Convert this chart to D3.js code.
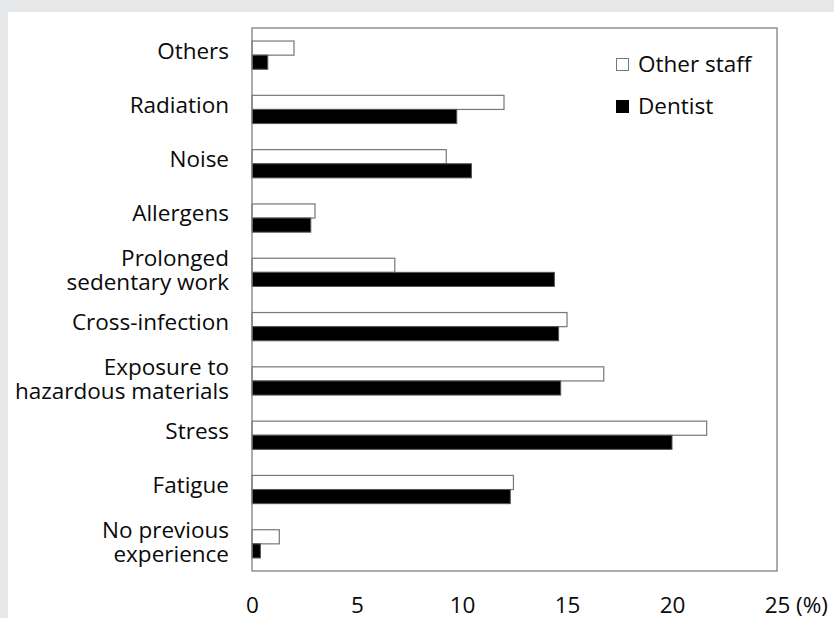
<!DOCTYPE html>
<html>
<head>
<meta charset="utf-8">
<script src="https://cdn.jsdelivr.net/npm/d3@7"></script>
<style>
  body { margin: 0; background: #e6e7e9; }
  text { font-family: "Open Sans", sans-serif; fill: #0a0a0a; }
</style>
</head>
<body>
<script>
let w = 834;
let h = 618;

let categories = [
  ["Others"],
  ["Radiation"],
  ["Noise"],
  ["Allergens"],
  ["Prolonged", "sedentary work"],
  ["Cross-infection"],
  ["Exposure to", "hazardous materials"],
  ["Stress"],
  ["Fatigue"],
  ["No previous", "experience"]
];
let otherStaff = [2.0, 12.0, 9.25, 3.0, 6.8, 15.0, 16.75, 21.65, 12.45, 1.3];
let dentist = [0.75, 9.75, 10.45, 2.8, 14.4, 14.6, 14.7, 20.0, 12.3, 0.4];
let seriesNames = ["Other staff", "Dentist"];
let xTicks = [0, 5, 10, 15, 20, 25];

let plotL = 252, plotR = 777, plotT = 28, plotB = 571;
let fs = 22.5;

let svg = d3.select("body")
  .append("svg")
  .attr("width", w)
  .attr("height", h)
  .style("display", "block");

// white panel
svg.append("rect")
  .attr("x", 8)
  .attr("y", 12)
  .attr("width", w - 8)
  .attr("height", h - 12)
  .attr("fill", "#fff");

let xScale = d3.scaleLinear()
  .domain([0, 25])
  .range([plotL, plotR]);

let yScale = d3.scaleBand()
  .domain(d3.range(categories.length))
  .range([plotT, plotB]);

let barH = yScale.bandwidth() * 0.26;

let rows = svg.append("g")
  .selectAll("g")
  .data(categories)
  .enter()
  .append("g")
  .attr("transform", (d, i) => "translate(0," + (yScale(i) + yScale.bandwidth() / 2) + ")");

rows.append("rect")
  .attr("x", xScale(0))
  .attr("y", -barH)
  .attr("width", (d, i) => xScale(otherStaff[i]) - xScale(0))
  .attr("height", barH)
  .attr("fill", "#fff")
  .attr("stroke", "#777")
  .attr("stroke-width", 1.2);

rows.append("rect")
  .attr("x", xScale(0))
  .attr("y", 0)
  .attr("width", (d, i) => xScale(dentist[i]) - xScale(0))
  .attr("height", barH)
  .attr("fill", "#000")
  .attr("stroke", "#555")
  .attr("stroke-width", 1);

// category labels (single lines sit a little above the bar pair)
rows.append("text")
  .attr("text-anchor", "end")
  .attr("font-size", fs)
  .attr("x", 229)
  .selectAll("tspan")
  .data(d => d)
  .enter()
  .append("tspan")
  .attr("x", 229)
  .attr("y", (t, j, arr) => arr.length === 1 ? -4.5 : (j - 0.5) * 24 - 2)
  .attr("dy", "0.35em")
  .text(t => t);

// plot frame
svg.append("rect")
  .attr("x", plotL)
  .attr("y", plotT)
  .attr("width", plotR - plotL)
  .attr("height", plotB - plotT)
  .attr("fill", "none")
  .attr("stroke", "#808080")
  .attr("stroke-width", 1.3);

// x axis labels
let xAxis = d3.axisBottom()
  .scale(xScale)
  .tickValues(xTicks)
  .tickSize(0)
  .tickPadding(26);

let gx = svg.append("g")
  .attr("transform", "translate(0," + plotB + ")")
  .call(xAxis);
gx.select(".domain").remove();
gx.selectAll("text")
  .attr("font-size", fs)
  .attr("font-family", "Open Sans, sans-serif")
  .attr("fill", "#0a0a0a");

svg.append("text")
  .attr("x", 796)
  .attr("y", 605)
  .attr("dy", "0.35em")
  .attr("font-size", fs)
  .text("(%)");

// legend
let legend = svg.append("g")
  .selectAll("g")
  .data(seriesNames)
  .enter()
  .append("g")
  .attr("transform", (d, i) => "translate(616," + (65 + i * 42) + ")");

legend.append("rect")
  .attr("x", 0.5)
  .attr("y", -6.5)
  .attr("width", 12)
  .attr("height", 12)
  .attr("fill", (d, i) => i === 0 ? "#fff" : "#000")
  .attr("stroke", (d, i) => i === 0 ? "#777" : "#000");

legend.append("text")
  .attr("x", 22)
  .attr("y", -1)
  .attr("dy", "0.35em")
  .attr("font-size", fs)
  .text(d => d);
</script>
</body>
</html>
